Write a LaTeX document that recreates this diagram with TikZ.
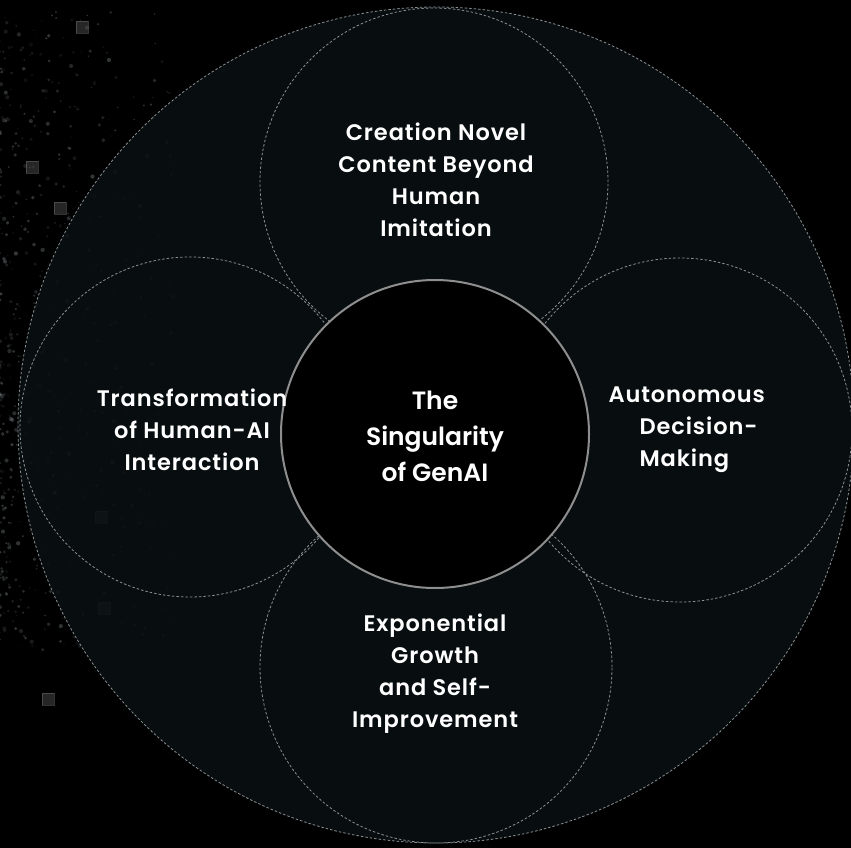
\documentclass[tikz,border=0pt]{standalone}
\usepackage{fontspec}
\setmainfont{Poppins}[BoldFont={* SemiBold}]
\usepackage{tikz}

\definecolor{fond}{HTML}{0A1013}
\definecolor{trait}{HTML}{8A9093}
\definecolor{bord}{HTML}{8E8E8E}
\definecolor{poussiere}{HTML}{9AA4A8}

\tikzset{
  petale/.style={circle, draw=trait, line width=0.8pt, dash pattern=on 2.5pt off 2pt, inner sep=0pt},
  etiquette/.style={text=white, font=\bfseries\fontsize{22.5}{32}\selectfont\addfontfeatures{LetterSpace=4}, align=center},
  carre/.style={fill=gray, fill opacity=0.3, draw=gray, draw opacity=0.4},
}

\begin{document}
\begin{tikzpicture}[x=1pt, y=-1pt]
		% fond noir
		\fill[black] (0,0) rectangle (851,848);
		\useasboundingbox (0,0) rectangle (851,848);

		% poussiere a gauche
		\pgfmathsetseed{7}
		\foreach \i in {1,...,600} {
			\pgfmathsetmacro{\px}{175*pow(rnd,2)}
			\pgfmathsetmacro{\py}{10+640*rnd}
			\pgfmathsetmacro{\pr}{0.6+1.6*rnd}
			\pgfmathsetmacro{\po}{0.06+0.28*rnd}
			\fill[poussiere, opacity=\po] (\px,\py) circle[radius=\pr];
		}
		\foreach \cx/\cy in {82/27, 60/208, 32/167, 101/517, 104/608, 48/699}
			\filldraw[carre] (\cx-6,\cy-6) rectangle (\cx+6,\cy+6);

		% grand cercle
		\node[petale, fill=fond, fill opacity=0.88, minimum size=836] (grand) at (436,425) {};

		% quatre petales
		\node[petale, minimum size=348] (haut) at (434,182) {};
		\node[petale, minimum size=344] (droite) at (680,430) {};
		\node[petale, minimum size=352] (bas) at (436,667) {};
		\node[petale, minimum size=340] (gauche) at (190,427) {};

		% cercle central
		\node[circle, fill=black, draw=bord, line width=2pt, minimum size=308, inner sep=0pt] (centre) at (435,434) {};

		% textes
		\node[etiquette] (t-haut) at (436,180) {Creation Novel\\Content Beyond\\Human\\Imitation};
		\node[etiquette, align=left, anchor=west] (t-droite) at (605,430) {Autonomous\\\hspace*{31pt}Decision-\\\hspace*{31pt}Making};
		\node[etiquette] (t-bas) at (435,674) {Exponential\\Growth\\and Self-\\Improvement};
		\node[etiquette] (t-gauche) at (192,430) {Transformation\\of Human-AI\\Interaction};
		\node[etiquette, font=\bfseries\fontsize{25}{36}\selectfont] (t-centre) at (435,436) {The\\Singularity\\of GenAI};

\end{tikzpicture}
\end{document}
